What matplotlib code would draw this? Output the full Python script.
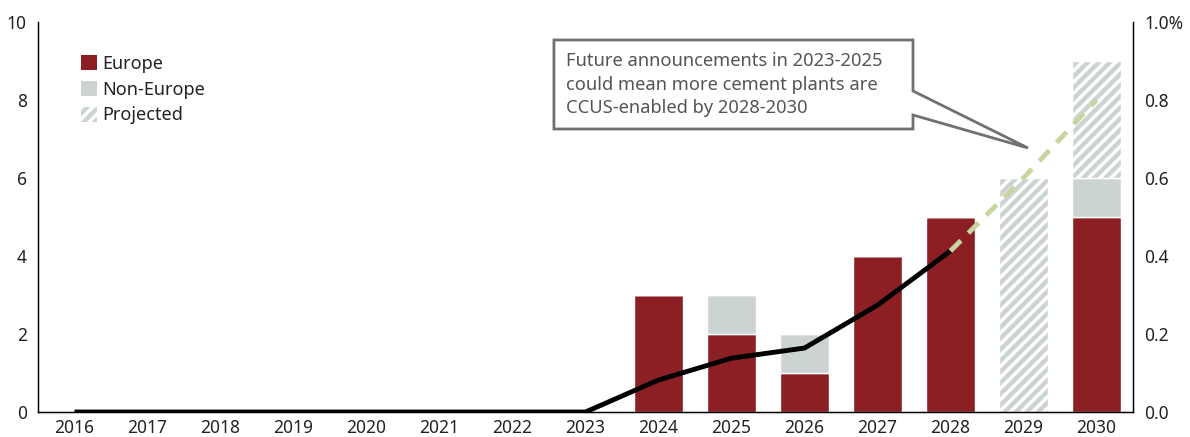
import matplotlib.pyplot as plt
import numpy as np
from matplotlib.patches import Patch, Polygon

plt.rcParams['font.family'] = ['Noto Sans', 'DejaVu Sans']
plt.rcParams['hatch.linewidth'] = 2.5

years = [str(y) for y in range(2016, 2031)]
europe = [0, 0, 0, 0, 0, 0, 0, 0, 3, 2, 1, 4, 5, 0, 5]
non_europe = [0, 0, 0, 0, 0, 0, 0, 0, 0, 1, 1, 0, 0, 0, 1]
projected = [0, 0, 0, 0, 0, 0, 0, 0, 0, 0, 0, 0, 0, 6, 3]
# share of global cement capacity, %
share = [0, 0, 0, 0, 0, 0, 0, 0, 0.082, 0.138, 0.164, 0.274, 0.413, 0.60, 0.80]
last_actual = 12  # index of 2028

EU_COL = '#8B1F24'
NEU_COL = '#CCD4D3'
PROJ_COL = '#C8D5A0'
TXT = '#222222'

x = np.arange(len(years))
eu = np.array(europe)
neu = np.array(non_europe)

fig = plt.figure(figsize=(11.9, 4.37), dpi=100)
ax = fig.add_axes([0.0319, 0.0572, 0.9202, 0.8925])

w = 0.66
ax.bar(x, eu, w, color=EU_COL, edgecolor='white', linewidth=1)
ax.bar(x, neu, w, bottom=eu, color=NEU_COL, edgecolor='white', linewidth=1)
ax.bar(x, projected, w, bottom=eu + neu, color=NEU_COL, edgecolor='white',
       linewidth=1, hatch='///')

ax.set_xlim(-0.5, len(years) - 0.5)
ax.set_ylim(0, 10)
ax.set_xticks(x)
ax.set_xticklabels(years)
ax.set_yticks(range(0, 11, 2))
ax.tick_params(length=0, labelsize=12.5, colors=TXT, pad=5)
ax.tick_params(axis='y', pad=8)
ax.spines['top'].set_visible(False)
for s in ['left', 'right', 'bottom']:
    ax.spines[s].set_linewidth(1)

ax2 = ax.twinx()
ax2.set_ylim(0, 1.0)
ax2.set_yticks(np.arange(0, 1.01, 0.2))
ax2.set_yticklabels(['0.0', '0.2', '0.4', '0.6', '0.8', '1.0%'])
ax2.tick_params(length=0, labelsize=12.5, colors=TXT, pad=8)
ax2.spines['top'].set_visible(False)
ax2.plot(x[:last_actual + 1], share[:last_actual + 1], color='black', lw=3.5,
         solid_capstyle='butt')
ax2.plot(x[last_actual:], share[last_actual:], color=PROJ_COL, lw=3.5,
         dashes=(3, 2.2))

handles = [Patch(facecolor=EU_COL, label='Europe'),
           Patch(facecolor=NEU_COL, label='Non-Europe'),
           Patch(facecolor=NEU_COL, edgecolor='white', hatch='///', lw=0,
                 label='Projected')]
leg = ax.legend(handles=handles, loc='upper left', bbox_to_anchor=(0.039, 0.915),
                frameon=False, fontsize=13, handlelength=0.9, handleheight=0.9,
                handletextpad=0.3, labelspacing=0.42, borderaxespad=0,
                borderpad=0)
for t in leg.get_texts():
    t.set_color(TXT)

# callout box with pointer
callout = [(0.4712, 0.9538), (0.7991, 0.9538), (0.7991, 0.8231),
           (0.9041, 0.6769), (0.7991, 0.7615), (0.7991, 0.7256),
           (0.4712, 0.7256)]
ax2.add_patch(Polygon(callout, closed=True, transform=ax2.transAxes,
                      facecolor='white', edgecolor='#707070', lw=2,
                      clip_on=False, zorder=5))
ax2.text(0.4822, 0.8397,
         'Future announcements in 2023-2025\ncould mean more cement plants are\nCCUS-enabled by 2028-2030',
         transform=ax2.transAxes, ha='left', va='center', fontsize=13.2,
         color='#555555', linespacing=1.42, zorder=6)

fig.savefig('out.png', dpi=100)
